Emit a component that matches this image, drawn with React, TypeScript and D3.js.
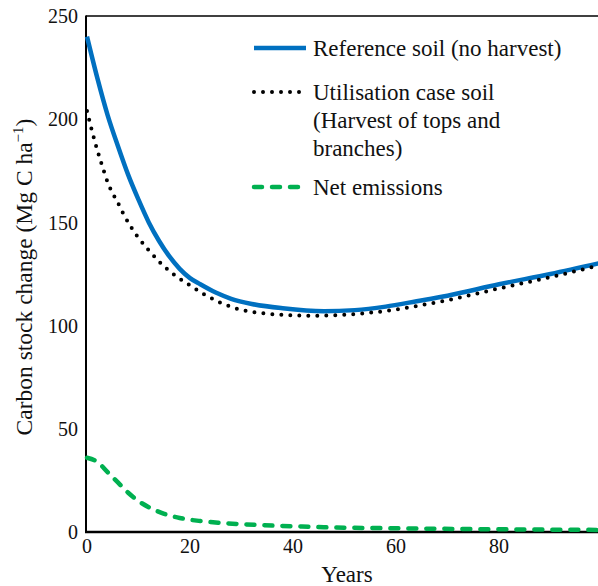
import React from 'react';
import * as d3 from 'd3';

// years and values
const refYears = [0, 2, 4, 6, 8, 10, 12, 14, 16, 18, 20, 22, 25, 28, 32, 38, 46, 52, 58, 64, 70, 80, 90, 100];
const refSoil = [240, 220, 202, 187, 173, 161, 150, 141, 133.5, 127.5, 123, 120, 116, 113, 110.5, 108.4, 107, 107.5, 109.2, 111.8, 114.5, 120, 125, 130.5];

const useYears = [0, 1, 2, 3, 4, 5, 6, 7, 8, 9, 10, 12, 14, 17, 20, 23, 26, 30, 34, 39, 44, 48, 53, 59, 64, 70, 80, 90, 100];
const useSoil = [204, 194, 185, 177, 169.5, 164, 159.5, 154.5, 150, 146, 142.5, 136.5, 131, 124.5, 119.5, 114.8, 111, 107.6, 106, 105.1, 104.7, 105, 105.8, 107.4, 109.5, 112.3, 118, 123.5, 129.5];

const netYears = [0, 2, 4, 6, 8, 10, 12, 15, 18, 22, 26, 33, 40, 46, 60, 80, 100];
const netEmissions = [36, 34, 29, 24, 19, 15, 12, 8.8, 6.8, 5.3, 4.4, 3.4, 2.8, 2.3, 1.8, 1.3, 1.0];

const xTicks = [0, 20, 40, 60, 80];
const yTicks = [0, 50, 100, 150, 200, 250];

const W = 598;
const H = 586;
const FONT = "'Liberation Serif', 'DejaVu Serif', serif";

export default function App() {
  const x = d3.scaleLinear().domain([0, 100]).range([87, 602]);
  const y = d3.scaleLinear().domain([0, 250]).range([532, 16]);

  const line = (xs: number[], ys: number[]) =>
    d3.line<number>()
      .x((_, i) => x(xs[i]))
      .y((d) => y(d))
      .curve(d3.curveMonotoneX)(ys) || '';

  const blue = '#0070c0';
  const green = '#00b050';
  const txt = { fontFamily: FONT, fill: '#111' };

  // legend rows
  const legend = [
    { label: ['Reference soil (no harvest)'], color: blue, dash: '', width: 4.5, cap: 'butt', y: 48 },
    { label: ['Utilisation case soil', '(Harvest of tops and', 'branches)'], color: '#000', dash: '0 9', width: 4, cap: 'round', y: 92 },
    { label: ['Net emissions'], color: green, dash: '8 10', width: 4.5, cap: 'round', y: 187 },
  ];

  return (
    <svg width={W} height={H} style={{ position: 'absolute', left: 0, top: 0, background: '#fff' }}>
      <rect width={W} height={H} fill="#fff" />

      {/* frame */}
      <line x1={86} x2={W} y1={16} y2={16} stroke="#000" strokeWidth={1.5} />
      <line x1={86} x2={86} y1={15.5} y2={533} stroke="#000" strokeWidth={2} />
      <line x1={85} x2={W} y1={532} y2={532} stroke="#000" strokeWidth={2.5} />

      {/* y ticks */}
      {yTicks.map((t) => (
        <text key={t} x={78} y={y(t)} dy="0.36em" textAnchor="end" fontSize={20} style={txt}>{t}</text>
      ))}
      {/* x ticks */}
      {xTicks.map((t) => (
        <text key={t} x={x(t)} y={553} textAnchor="middle" fontSize={20} style={txt}>{t}</text>
      ))}

      <text x={347} y={582} textAnchor="middle" fontSize={23} style={txt}>Years</text>
      <text transform={`translate(32,277) rotate(-90)`} textAnchor="middle" fontSize={23.5} style={txt}>
        Carbon stock change (Mg C ha<tspan dy={-9} fontSize={15}>−1</tspan><tspan dy={9}>)</tspan>
      </text>

      {/* series */}
      <path d={line(netYears, netEmissions)} fill="none" stroke={green} strokeWidth={4.5} strokeDasharray="8 10" strokeLinecap="round" />
      <path d={line(refYears, refSoil)} fill="none" stroke={blue} strokeWidth={4.5} />
      <path d={line(useYears, useSoil)} fill="none" stroke="#000" strokeWidth={4} strokeDasharray="0 9" strokeLinecap="round" />

      {/* legend */}
      {legend.map((l, i) => (
        <g key={i}>
          <line x1={254} x2={i === 0 ? 306 : 300} y1={l.y} y2={l.y} stroke={l.color} strokeWidth={l.width}
            strokeDasharray={l.dash || undefined} strokeLinecap={l.cap as any} />
          {l.label.map((s, j) => (
            <text key={j} x={313} y={l.y + j * 28} dy="0.35em" fontSize={23} style={txt}>{s}</text>
          ))}
        </g>
      ))}
    </svg>
  );
}
